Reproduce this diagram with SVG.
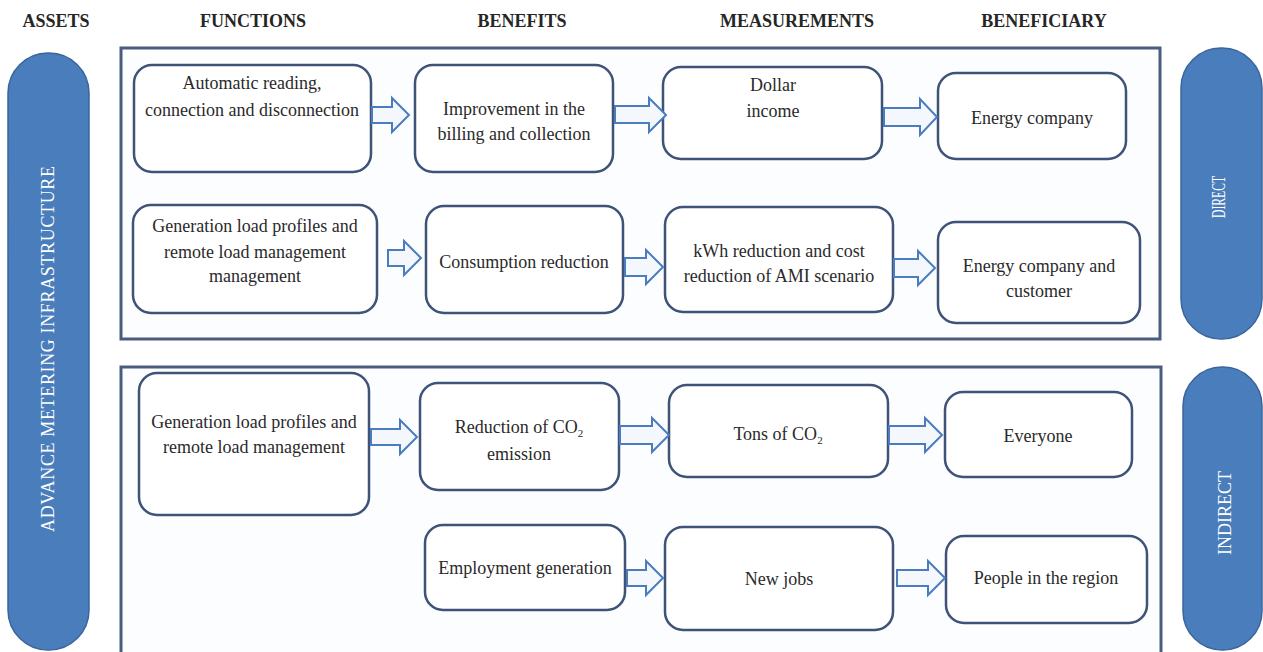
<svg xmlns="http://www.w3.org/2000/svg" width="1263" height="652" viewBox="0 0 1263 652">
<defs>
<style>
.hdr{font-family:"Liberation Serif","Times New Roman",serif;font-weight:bold;font-size:18px;fill:#262626;text-anchor:middle}
.cont{fill:#fcfdff;stroke:#4a5d7e;stroke-width:3}
.pill{fill:#4a7dbc;stroke:#3a659c;stroke-width:1.5}
.pt{font-family:"Liberation Serif","Times New Roman",serif;font-size:18px;fill:#ffffff;text-anchor:middle}
.node rect{fill:#ffffff;stroke:#3e5377;stroke-width:2.5}
.node text{font-family:"Liberation Serif","Times New Roman",serif;font-size:18px;fill:#2a2a2a;text-anchor:middle}
.arr{fill:#f4f8fd;stroke:#4a7cc0;stroke-width:2;stroke-linejoin:miter}
.sub{font-size:11px}
</style>
</defs>
<rect width="1263" height="652" fill="#ffffff"/>
<g id="headers">
<text class="hdr" x="56" y="27">ASSETS</text>
<text class="hdr" x="253" y="27">FUNCTIONS</text>
<text class="hdr" x="522" y="27">BENEFITS</text>
<text class="hdr" x="797" y="27">MEASUREMENTS</text>
<text class="hdr" x="1044" y="27">BENEFICIARY</text>
</g>
<g id="containers">
<rect class="cont" x="121" y="48" width="1039" height="291"/>
<rect class="cont" x="121" y="367" width="1040" height="310"/>
</g>
<g id="assets">
<rect class="pill" x="8" y="53" width="81" height="597" rx="40"/>
<text class="pt" transform="translate(54,349) rotate(-90)" textLength="366" lengthAdjust="spacing">ADVANCE METERING  INFRASTRUCTURE</text>
</g>
<g id="direct">
<rect class="pill" x="1181" y="48" width="81" height="291" rx="40"/>
<text class="pt" transform="translate(1225,197) rotate(-90)" textLength="42" lengthAdjust="spacingAndGlyphs">DIRECT</text>
</g>
<g id="indirect">
<rect class="pill" x="1183" y="367" width="79" height="283" rx="39"/>
<text class="pt" transform="translate(1231,513) rotate(-90)">INDIRECT</text>
</g>
<g id="n1" class="node"><rect x="134" y="65" width="237" height="107" rx="18"/>
<text x="252" y="89">Automatic reading,</text><text x="252" y="116">connection and disconnection</text></g>
<g id="n2" class="node"><rect x="415" y="65" width="198" height="107" rx="18"/>
<text x="514" y="115">Improvement in the</text><text x="514" y="140">billing and collection</text></g>
<g id="n3" class="node"><rect x="663" y="67" width="219" height="92" rx="18"/>
<text x="773" y="91">Dollar</text><text x="773" y="117">income</text></g>
<g id="n4" class="node"><rect x="938" y="73" width="188" height="86" rx="18"/>
<text x="1032" y="124">Energy company</text></g>
<g id="n5" class="node"><rect x="133" y="205" width="244" height="108" rx="18"/>
<text x="255" y="232">Generation load profiles and</text><text x="255" y="258">remote load management</text><text x="255" y="282">management</text></g>
<g id="n6" class="node"><rect x="426" y="206" width="197" height="107" rx="18"/>
<text x="524" y="268">Consumption reduction</text></g>
<g id="n7" class="node"><rect x="665" y="207" width="228" height="105" rx="18"/>
<text x="779" y="257">kWh reduction and cost</text><text x="779" y="282">reduction of AMI scenario</text></g>
<g id="n8" class="node"><rect x="938" y="222" width="202" height="101" rx="18"/>
<text x="1039" y="272">Energy company and</text><text x="1039" y="297">customer</text></g>
<g id="n9" class="node"><rect x="139" y="373" width="230" height="142" rx="18"/>
<text x="254" y="428">Generation load profiles and</text><text x="254" y="453">remote load management</text></g>
<g id="n10" class="node"><rect x="420" y="383" width="199" height="107" rx="18"/>
<text x="519" y="433">Reduction of CO<tspan class="sub" dy="4">2</tspan></text><text x="519" y="460">emission</text></g>
<g id="n11" class="node"><rect x="669" y="385" width="219" height="92" rx="18"/>
<text x="778" y="440">Tons of CO<tspan class="sub" dy="4">2</tspan></text></g>
<g id="n12" class="node"><rect x="945" y="392" width="187" height="85" rx="18"/>
<text x="1038" y="442">Everyone</text></g>
<g id="n13" class="node"><rect x="425" y="525" width="200" height="85" rx="18"/>
<text x="525" y="574">Employment generation</text></g>
<g id="n14" class="node"><rect x="665" y="527" width="228" height="103" rx="18"/>
<text x="779" y="585">New jobs</text></g>
<g id="n15" class="node"><rect x="946" y="536" width="201" height="87" rx="18"/>
<text x="1046" y="584">People in the region</text></g>
<g id="connectors">
<polygon class="arr" points="372,107 392,107 392,98 409,115 392,132 392,123 372,123"/>
<polygon class="arr" points="615,106 649,106 649,98 666,115 649,132 649,123 615,123"/>
<polygon class="arr" points="884,108 920,108 920,99 937,117 920,135 920,126 884,126"/>
<polygon class="arr" points="388,250 404,250 404,241 421,258 404,275 404,266 388,266"/>
<polygon class="arr" points="625,258 646,258 646,250 663,267 646,284 646,276 625,276"/>
<polygon class="arr" points="894,259 918,259 918,251 935,268 918,285 918,277 894,277"/>
<polygon class="arr" points="371,429 400,429 400,420 417,437 400,454 400,445 371,445"/>
<polygon class="arr" points="620,426 652,426 652,418 669,435 652,452 652,444 620,444"/>
<polygon class="arr" points="889,426 925,426 925,418 942,435 925,452 925,444 889,444"/>
<polygon class="arr" points="627,570 646,570 646,561 663,578 646,595 646,586 627,586"/>
<polygon class="arr" points="897,570 928,570 928,561 945,578 928,595 928,586 897,586"/>
</g>
</svg>
